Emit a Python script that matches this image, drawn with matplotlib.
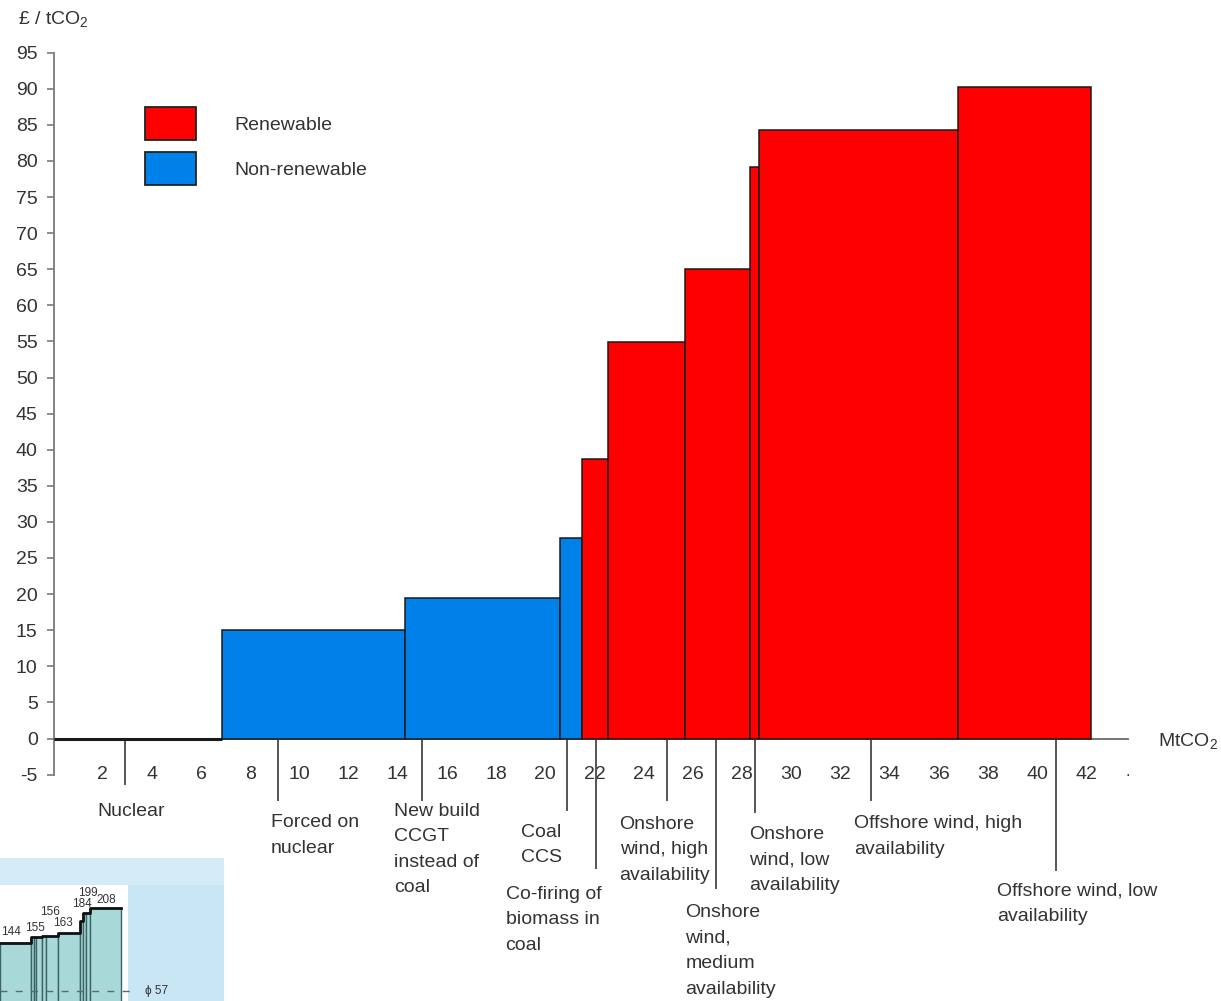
import matplotlib
matplotlib.use('Agg')
import matplotlib.pyplot as plt
import matplotlib.patches as mpatches
import numpy as np

plt.rcParams['font.family'] = ['Liberation Sans', 'DejaVu Sans']
plt.rcParams['mathtext.fontset'] = 'custom'
plt.rcParams['mathtext.rm'] = 'Liberation Sans'
plt.rcParams['mathtext.it'] = 'Liberation Sans:italic'

################################################
# DATA
################################################
options = ["Nuclear", "Forced on\nnuclear", "New build\nCCGT\ninstead of\ncoal",
           "Coal\nCCS", "Co-firing of\nbiomass in\ncoal",
           "Onshore\nwind, high\navailability", "Onshore\nwind,\nmedium\navailability",
           "Onshore\nwind, low\navailability", "Offshore wind, high\navailability",
           "Offshore wind, low\navailability"]
abatement = [6.84, 7.45, 6.29, 0.92, 1.06, 3.11, 2.66, 0.35, 8.09, 5.43]   # MtCO2
cost = [0, 15.0, 19.4, 27.8, 38.7, 54.9, 65.0, 79.2, 84.3, 90.3]          # £/tCO2
renewable = [False, False, False, False, True, True, True, True, True, True]
x_ticks = list(range(2, 43, 2))
y_ticks = list(range(-5, 96, 5))

# fragment of another chart pasted in the lower-left corner
inset_widths = [31, 2.5, 2.5, 6, 4, 12, 22, 3, 3, 4, 31]
inset_heights = [144, 155, 155, 155, 156, 156, 163, 184, 199, 199, 208]
inset_labels = [144, 155, 156, 163, 184, 199, 208]
inset_ref = 57

################################################
# LAYOUT (pointer x, pointer end y, text x, text top y)
################################################
label_pos = [(2.9, -6.3, 1.76, -8.9), (9.11, -8.5, 8.83, -10.5),
             (14.97, -8.5, 13.83, -8.9), (20.86, -9.9, 19.0, -11.8),
             (22.04, -17.9, 18.38, -20.4), (24.93, -8.5, 23.02, -10.7),
             (26.96, -20.7, 25.70, -22.9), (28.54, -10.2, 28.3, -12.1),
             (33.26, -8.5, 32.57, -10.6), (40.78, -18.2, 38.39, -19.9)]
inset_label_pos = [(11, 164), (35, 171), (50, 200), (63, 181), (82, 215), (88, 235), (106, 223)]

W, H = 1221, 1001
txt = '#333333'
red = '#ff0000'
blue = '#0081e9'

fig = plt.figure(figsize=(W/100, H/100), dpi=100)
ax = fig.add_axes([53.7/W, 1-774.6/H, (1128-53.7)/W, (774.6-52.6)/H])

lefts = np.concatenate([[0], np.cumsum(abatement)[:-1]])
colors = [red if r else blue for r in renewable]
lws = [2.2] + [1.1]*(len(cost)-1)
ax.bar(lefts, cost, width=abatement, align='edge', color=colors,
       edgecolor='#1a1a1a', linewidth=lws, zorder=3)

ax.set_xlim(0, 43.7)
ax.set_ylim(-5, 95)
for s in ['top', 'right']:
    ax.spines[s].set_visible(False)
ax.spines['left'].set_color('#7a7a7a')
ax.spines['left'].set_linewidth(1.3)
ax.spines['bottom'].set_position(('data', 0))
ax.spines['bottom'].set_color('#6a6a6a')
ax.spines['bottom'].set_linewidth(1.3)

ax.set_yticks(y_ticks)
ax.set_yticklabels([str(v) for v in y_ticks])
ax.tick_params(axis='y', direction='out', length=5, width=1.2, color='#7a7a7a',
               pad=6.5, labelsize=14, labelcolor=txt)
ax.set_xticks(x_ticks)
ax.set_xticklabels([str(v) for v in x_ticks])
ax.tick_params(axis='x', length=0, pad=19.5, labelsize=14, labelcolor=txt)
ax.text(43.7, -4.6, '.', fontsize=12, color=txt, ha='center', va='center')

# category labels with pointer lines
for name, (px, py, tx, ty) in zip(options, label_pos):
    ax.plot([px, px], [0, py], color='#555555', lw=1.4, clip_on=False, zorder=2)
    ax.text(tx, ty, name, fontsize=14, color=txt, ha='left', va='top',
            linespacing=1.66, clip_on=False)

fig.text(18/W, 1-19/H, '£ / tCO$_2$', fontsize=14, color=txt, ha='left', va='center')
fig.text(1158/W, 1-741/H, 'MtCO$_2$', fontsize=14, color=txt, ha='left', va='center')

handles = [mpatches.Patch(facecolor=red, edgecolor='#222222', lw=1.3),
           mpatches.Patch(facecolor=blue, edgecolor='#222222', lw=1.3)]
leg = ax.legend(handles, ['Renewable', 'Non-renewable'], loc='upper left',
                bbox_to_anchor=(145/W, 1-107/H), bbox_transform=fig.transFigure,
                frameon=False, fontsize=14, handlelength=2.63, handleheight=2.25,
                labelspacing=0.62, handletextpad=1.96, borderpad=0, borderaxespad=0)
for t in leg.get_texts():
    t.set_color(txt)

################################################
# INSET FRAGMENT
################################################
axi = fig.add_axes([0, 0, 224/W, 143/H])
axi.set_xlim(0, 224)
axi.set_ylim(38, 299)
axi.set_facecolor('#c9e6f5')
for s in axi.spines.values():
    s.set_visible(False)
axi.set_xticks([])
axi.set_yticks([])
axi.axhspan(250, 299, color='#d3ecf8', lw=0)
axi.add_patch(mpatches.Rectangle((0, 38), 128, 250-38, facecolor='white', lw=0))
in_lefts = np.concatenate([[0], np.cumsum(inset_widths)[:-1]])
axi.bar(in_lefts, inset_heights, width=inset_widths, align='edge', color='#a9d8d9',
        edgecolor='#3b6465', linewidth=1.0)
edges = np.concatenate([in_lefts, [in_lefts[-1] + inset_widths[-1]]])
axi.step(edges, inset_heights + [inset_heights[-1]], where='post', color='#111111', lw=2)
axi.plot([0, 130], [inset_ref, inset_ref], color='#5a6a70', lw=1, ls=(0, (5, 6)))
axi.text(145, inset_ref, 'ϕ ' + str(inset_ref), fontsize=8.5, color='#333333', va='center')
for v, (lx, ly) in zip(inset_labels, inset_label_pos):
    axi.text(lx, ly, str(v), fontsize=8.5, color='#333333', ha='center', va='center')

fig.savefig('out.png', dpi=100)
